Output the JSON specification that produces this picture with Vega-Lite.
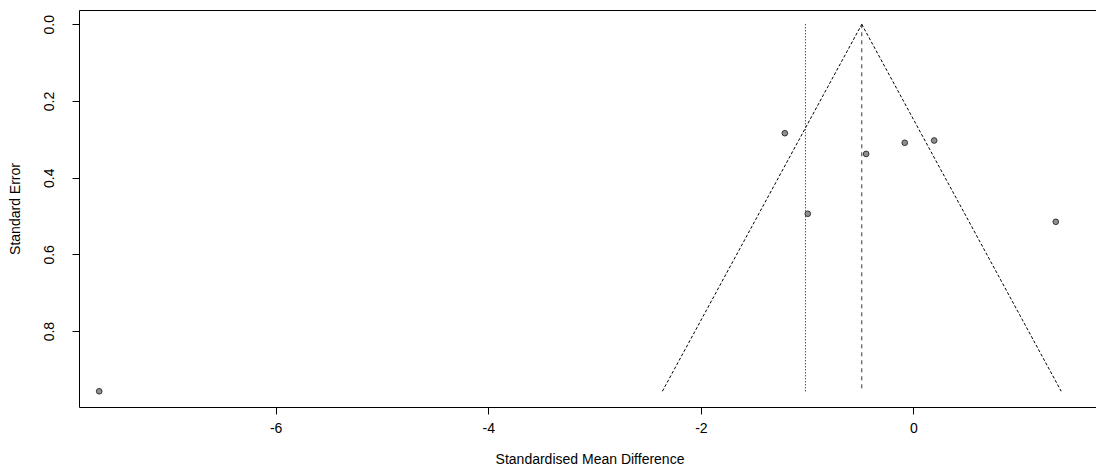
{
  "$schema": "https://vega.github.io/schema/vega-lite/v6.json",
  "autosize": {"type": "none"},
  "width": 1021,
  "height": 397,
  "padding": {"left": 79, "top": 10, "right": 0, "bottom": 62},
  "background": "white",
  "config": {
    "view": {"stroke": "black", "strokeWidth": 1},
    "font": "Liberation Sans",
    "axis": {
      "domain": false,
      "grid": false,
      "tickColor": "black",
      "tickSize": 7,
      "labelFont": "Liberation Sans",
      "labelFontSize": 14,
      "labelColor": "black",
      "titleFont": "Liberation Sans",
      "titleFontSize": 14,
      "titleFontWeight": "normal",
      "titleColor": "black"
    }
  },
  "datasets": {
    "studies": [
      {"smd": -7.66, "se": 0.957},
      {"smd": -1.21, "se": 0.284},
      {"smd": -0.994, "se": 0.494},
      {"smd": -0.445, "se": 0.338},
      {"smd": -0.082, "se": 0.309},
      {"smd": 0.195, "se": 0.303},
      {"smd": 1.339, "se": 0.515}
    ],
    "funnel": [
      {"side": "left", "smd": -0.486, "se": 0},
      {"side": "left", "smd": -2.362, "se": 0.957},
      {"side": "right", "smd": -0.486, "se": 0},
      {"side": "right", "smd": 1.39, "se": 0.957}
    ],
    "fixed": [{"smd": -0.486, "se0": 0, "se1": 0.957}],
    "random": [{"smd": -1.016, "se0": 0, "se1": 0.957}]
  },
  "layer": [
    {
      "data": {"name": "funnel"},
      "mark": {"type": "line", "color": "black", "strokeWidth": 1, "strokeDash": [3, 2]},
      "encoding": {
        "x": {"field": "smd", "type": "quantitative", "scale": {"domain": [-7.85, 1.755], "nice": false, "zero": false},
              "axis": {"values": [-6, -4, -2, 0], "labelExpr": "'' + datum.value", "title": "Standardised Mean Difference", "labelPadding": 7, "titlePadding": 17}},
        "y": {"field": "se", "type": "quantitative", "scale": {"domain": [0.998, -0.0373], "nice": false, "zero": false},
              "axis": {"values": [0, 0.2, 0.4, 0.6, 0.8], "format": ".1f", "labelAngle": -90, "labelAlign": "center", "labelBaseline": "bottom", "labelPadding": 16, "title": "Standard Error", "titlePadding": 20}},
        "detail": {"field": "side"}
      }
    },
    {
      "data": {"name": "fixed"},
      "mark": {"type": "rule", "color": "black", "strokeWidth": 0.8, "strokeDash": [4, 4]},
      "encoding": {
        "x": {"field": "smd", "type": "quantitative"},
        "y": {"field": "se0", "type": "quantitative"},
        "y2": {"field": "se1"}
      }
    },
    {
      "data": {"name": "random"},
      "mark": {"type": "rule", "color": "black", "strokeWidth": 1, "strokeDash": [1, 2]},
      "encoding": {
        "x": {"field": "smd", "type": "quantitative"},
        "y": {"field": "se0", "type": "quantitative"},
        "y2": {"field": "se1"}
      }
    },
    {
      "data": {"name": "studies"},
      "mark": {"type": "point", "shape": "circle", "filled": true, "fill": "#8f8f8f", "stroke": "#333333", "strokeWidth": 1, "size": 32, "opacity": 1},
      "encoding": {
        "x": {"field": "smd", "type": "quantitative"},
        "y": {"field": "se", "type": "quantitative"}
      }
    }
  ]
}
